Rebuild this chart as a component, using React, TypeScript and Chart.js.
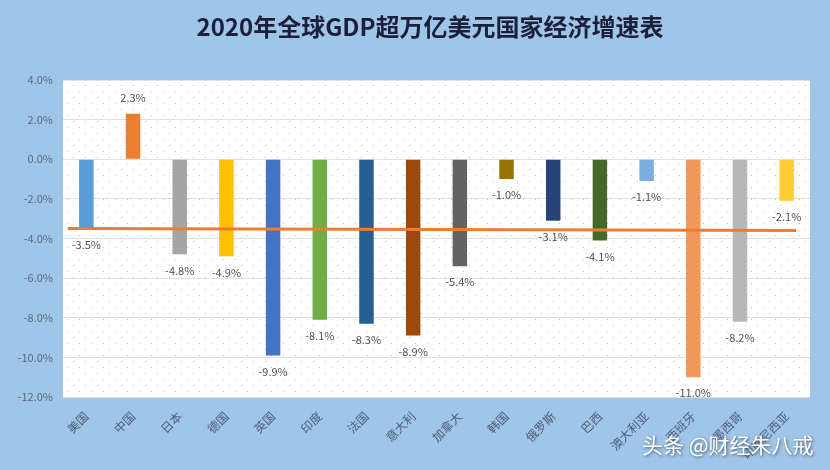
import React, { useEffect, useRef } from "react";
import { Chart, registerables } from "chart.js";

Chart.register(...registerables);

const titleText = "2020年全球GDP超万亿美元国家经济增速表";
const watermarkText = "头条 @财经朱八戒";

const categories = [
  "美国", "中国", "日本", "德国", "英国", "印度", "法国", "意大利",
  "加拿大", "韩国", "俄罗斯", "巴西", "澳大利亚", "西班牙", "墨西哥", "印度尼西亚",
];
const growth = [-3.5, 2.3, -4.8, -4.9, -9.9, -8.1, -8.3, -8.9, -5.4, -1.0, -3.1, -4.1, -1.1, -11.0, -8.2, -2.1];
const barColors = [
  "#5B9BD5", "#ED7D31", "#A5A5A5", "#FFC000", "#4472C4", "#70AD47", "#255E91", "#9E480E",
  "#636363", "#997300", "#264478", "#43682B", "#7CAFDD", "#F1975A", "#B7B7B7", "#FFCD33",
];
// reference line (world growth) endpoints, in category-index units
const refLineX = [-0.4, 15.2];
const refLineY = [-3.5, -3.6];
const yMin = -12;
const yMax = 4;
const yStep = 2;

const FONT = "'Noto Sans CJK SC', 'Noto Sans', sans-serif";

const bgPlugin = {
  id: "plotBg",
  beforeDraw(chart: any) {
    const { ctx, chartArea: a } = chart;
    ctx.save();
    ctx.fillStyle = "#FFFFFF";
    ctx.fillRect(a.left, a.top, a.right - a.left, a.bottom - a.top);
    const pc = document.createElement("canvas");
    pc.width = 12;
    pc.height = 12;
    const p = pc.getContext("2d")!;
    p.fillStyle = "#C4C4C4";
    p.fillRect(1, 1, 1, 1);
    p.fillRect(7, 7, 1, 1);
    const pat = ctx.createPattern(pc, "repeat");
    if (pat) {
      ctx.fillStyle = pat;
      ctx.fillRect(a.left, a.top, a.right - a.left, a.bottom - a.top);
    }
    ctx.restore();
  },
  afterDraw(chart: any) {
    const { ctx } = chart;
    ctx.save();
    ctx.fillStyle = "#1B1F3B";
    ctx.font = `bold 24px ${FONT}`;
    ctx.textAlign = "center";
    ctx.textBaseline = "middle";
    ctx.fillText(titleText, 430, 27);
    ctx.font = `21px ${FONT}`;
    ctx.textAlign = "left";
    ctx.shadowColor = "rgba(0,0,0,0.55)";
    ctx.shadowBlur = 3;
    ctx.shadowOffsetX = 1;
    ctx.shadowOffsetY = 1;
    ctx.fillStyle = "#FFFFFF";
    ctx.fillText(watermarkText, 642, 445);
    ctx.restore();
  },
};

const refLinePlugin = {
  id: "refLine",
  afterDatasetsDraw(chart: any) {
    const { ctx } = chart;
    const xs = chart.scales.x;
    const ys = chart.scales.y;
    ctx.save();
    ctx.strokeStyle = "#ED7D31";
    ctx.lineWidth = 3;
    ctx.beginPath();
    refLineX.forEach((x, i) => {
      const px = xs.getPixelForValue(x);
      const py = ys.getPixelForValue(refLineY[i]);
      if (i === 0) ctx.moveTo(px, py);
      else ctx.lineTo(px, py);
    });
    ctx.stroke();
    ctx.restore();
  },
};

const labelPlugin = {
  id: "barLabels",
  afterDatasetsDraw(chart: any) {
    const { ctx } = chart;
    const meta = chart.getDatasetMeta(0);
    ctx.save();
    ctx.font = `11px ${FONT}`;
    ctx.fillStyle = "#505050";
    ctx.textAlign = "center";
    ctx.textBaseline = "middle";
    meta.data.forEach((el: any, i: number) => {
      const v = growth[i];
      const y = v >= 0 ? el.y - 16 : el.y + 16;
      ctx.fillText(v.toFixed(1) + "%", el.x, y);
    });
    ctx.restore();
  },
};

export default function App() {
  const ref = useRef<HTMLCanvasElement | null>(null);
  useEffect(() => {
    if (!ref.current) return;
    const chart = new Chart(ref.current, {
      type: "bar",
      data: {
        labels: categories,
        datasets: [
          {
            data: growth,
            backgroundColor: barColors,
            barPercentage: 0.31,
            categoryPercentage: 1,
          },
        ],
      },
      options: {
        animation: false,
        responsive: false,
        maintainAspectRatio: false,
        layout: { padding: { left: 0, right: 20, top: 80, bottom: 0 } },
        plugins: {
          legend: { display: false },
          tooltip: { enabled: false },
          title: { display: false },
        },
        scales: {
          x: {
            type: "category",
            grid: { display: false, drawTicks: false },
            border: { display: false },
            ticks: {
              minRotation: 45,
              maxRotation: 45,
              padding: 12,
              color: "#4E5F78",
              font: { family: FONT, size: 12 },
              autoSkip: false,
            },
            afterFit(scale: any) {
              scale.height = 73;
            },
          },
          y: {
            min: yMin,
            max: yMax,
            grid: { color: "#E0E0E0", drawTicks: false },
            border: { display: false },
            ticks: {
              stepSize: yStep,
              padding: 10,
              color: "#5A6A82",
              font: { family: FONT, size: 11 },
              callback: (v: any) => Number(v).toFixed(1) + "%",
            },
            afterFit(scale: any) {
              scale.width = 63;
            },
          },
        },
      } as any,
      plugins: [bgPlugin, refLinePlugin, labelPlugin],
    });
    return () => chart.destroy();
  }, []);
  return (
    <div style={{ position: "fixed", left: 0, top: 0, width: 830, height: 470, background: "#9FC5E8" }}>
      <canvas ref={ref} width={830} height={470} style={{ display: "block" }} />
    </div>
  );
}
